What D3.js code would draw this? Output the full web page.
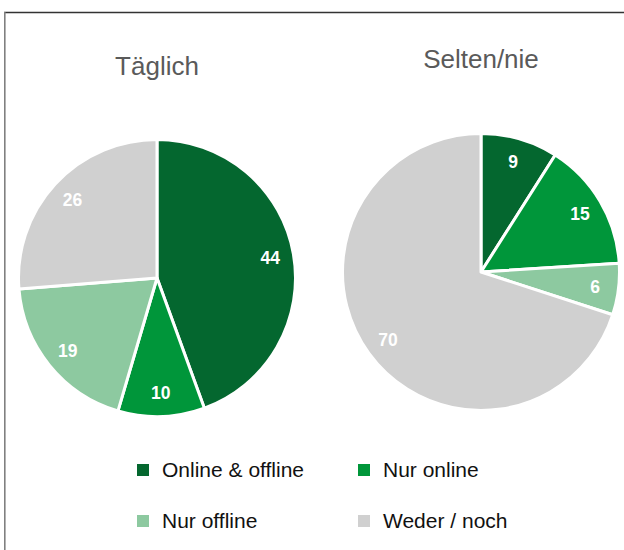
<!DOCTYPE html>
<html>
<head>
<meta charset="utf-8">
<script src="https://cdn.jsdelivr.net/npm/d3@7"></script>
<style>
  html, body { margin: 0; padding: 0; background: #fff; }
  svg { display: block; }
  text { font-family: "Liberation Sans", Arial, sans-serif; }
</style>
</head>
<body>
<svg id="chart" width="624" height="550"></svg>
<script>
const categories = ["Online & offline", "Nur online", "Nur offline", "Weder / noch"];
const pieTitles = ["Täglich", "Selten/nie"];
const valuesTaeglich = [44, 10, 19, 26];
const valuesSelten = [9, 15, 6, 70];
const colors = ["#04672f", "#00963a", "#8dc9a0", "#d0d0d0"];

const svg = d3.select("#chart");

// frame
svg.append("line").attr("x1", 4).attr("y1", 12.5).attr("x2", 624).attr("y2", 12.5)
  .attr("stroke", "#333").attr("stroke-width", 1.5);
svg.append("line").attr("x1", 4.8).attr("y1", 12).attr("x2", 4.8).attr("y2", 550)
  .attr("stroke", "#808080").attr("stroke-width", 1.6);

const color = d3.scaleOrdinal().domain(categories).range(colors);

const pies = [
  { title: pieTitles[0], values: valuesTaeglich, cx: 157, cy: 278, ty: 75 },
  { title: pieTitles[1], values: valuesSelten, cx: 481, cy: 272, ty: 68 }
];

const radius = 138.5;
const pie = d3.pie().sort(null).value(d => d.value);
const arc = d3.arc().innerRadius(0).outerRadius(radius);
const labelArc = d3.arc().innerRadius(radius * 0.83).outerRadius(radius * 0.83);

pies.forEach(p => {
  const data = categories.map((c, i) => ({ cat: c, value: p.values[i] }));
  const g = svg.append("g").attr("transform", `translate(${p.cx},${p.cy})`);
  const arcs = pie(data);
  g.selectAll("path").data(arcs).join("path")
    .attr("d", arc)
    .attr("fill", d => color(d.data.cat))
    .attr("stroke", "#fff")
    .attr("stroke-width", 3)
    .attr("stroke-linejoin", "round");
  g.selectAll("text.lbl").data(arcs).join("text")
    .attr("class", "lbl")
    .attr("transform", d => `translate(${labelArc.centroid(d)})`)
    .attr("text-anchor", "middle")
    .attr("dy", "0.36em")
    .attr("fill", "#fff")
    .attr("font-weight", "bold")
    .attr("font-size", 17.5)
    .text(d => d.data.value);
  svg.append("text")
    .attr("x", p.cx).attr("y", p.ty)
    .attr("text-anchor", "middle")
    .attr("font-size", 26)
    .attr("fill", "#5a5a5a")
    .text(p.title);
});

// legend
const colX = [137, 358];
const rowY = [477, 528];
const leg = svg.selectAll("g.leg").data(categories).join("g")
  .attr("class", "leg")
  .attr("transform", (d, i) => `translate(${colX[i % 2]},${rowY[Math.floor(i / 2)]})`);
leg.append("rect")
  .attr("x", 0).attr("y", -13).attr("width", 12).attr("height", 12)
  .attr("fill", d => color(d));
leg.append("text")
  .attr("x", 25).attr("y", 0)
  .attr("font-size", 21)
  .attr("fill", "#111")
  .text(d => d);
</script>
</body>
</html>
